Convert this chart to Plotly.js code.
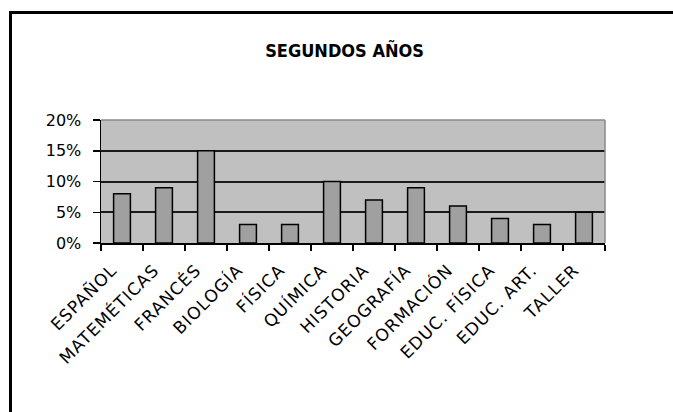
<!DOCTYPE html>
<html>
<head>
<meta charset="utf-8">
<script src="https://cdn.plot.ly/plotly-3.0.1.min.js"></script>
<style>
html,body{margin:0;padding:0;background:#fff;}
#chart{width:673px;height:412px;position:relative;}
#frame{position:absolute;left:9px;top:11px;width:700px;height:450px;border:3px solid #000;box-sizing:border-box;pointer-events:none;}
#wrap{position:relative;width:673px;height:412px;overflow:hidden;}
.xtick text{letter-spacing:1px;}
</style>
</head>
<body>
<div id="wrap">
<div id="chart"></div>
<div id="frame"></div>
</div>
<script>
const chartTitle = 'SEGUNDOS AÑOS';
const categories = ['ESPAÑOL','MATEMÉTICAS','FRANCÉS','BIOLOGÍA','FÍSICA','QUÍMICA','HISTORIA','GEOGRAFÍA','FORMACIÓN','EDUC. FÍSICA','EDUC. ART.','TALLER'];
const values = [8, 9, 15, 3, 3, 10, 7, 9, 6, 4, 3, 5];
const yTickValues = [0, 5, 10, 15, 20];
const yTickLabels = ['0%', '5%', '10%', '15%', '20%'];

const trace = {
  type: 'bar',
  x: categories,
  y: values,
  marker: {color: '#a0a0a0', line: {color: '#000', width: 1.5}},
  width: 0.4,
  hoverinfo: 'x+y'
};

const layout = {
  width: 673, height: 412,
  margin: {l: 101, r: 68, t: 120, b: 169},
  paper_bgcolor: 'rgba(0,0,0,0)',
  plot_bgcolor: '#c0c0c0',
  showlegend: false,
  title: {
    text: chartTitle,
    font: {family: '"DejaVu Sans Condensed", "DejaVu Sans", sans-serif', size: 18, color: '#000', weight: 'bold', stretch: 'condensed'},
    xref: 'container', yref: 'container',
    x: 0.512, y: 1 - 50.5/412, xanchor: 'center', yanchor: 'middle'
  },
  font: {family: '"DejaVu Sans", sans-serif', color: '#000'},
  xaxis: {
    type: 'category',
    tickangle: -45,
    tickson: 'boundaries',
    ticks: 'outside', ticklen: 6, tickcolor: '#000', tickwidth: 1.5,
    showline: true, linecolor: '#000', linewidth: 1.5,
    showgrid: false,
    tickfont: {size: 17, family: '"DejaVu Sans", sans-serif', color: '#000'},
    ticklabelshift: -10,
    ticklabelstandoff: 9,
    fixedrange: true
  },
  yaxis: {
    range: [0, 20],
    tickvals: yTickValues,
    ticktext: yTickLabels,
    ticks: 'outside', ticklen: 7, tickcolor: '#000', tickwidth: 1.5,
    showline: true, linecolor: '#000', linewidth: 1.5,
    showgrid: true, gridcolor: '#1a1a1a', gridwidth: 2,
    zeroline: false,
    tickfont: {size: 16, family: '"DejaVu Sans", sans-serif', color: '#000'},
    ticklabelstandoff: 8,
    fixedrange: true
  },
  shapes: [
    {type: 'line', xref: 'paper', yref: 'paper', x0: 0, x1: 1, y0: 1, y1: 1, line: {color: '#8a8a8a', width: 1.5}},
    {type: 'line', xref: 'paper', yref: 'paper', x0: 1, x1: 1, y0: 0, y1: 1, line: {color: '#8a8a8a', width: 1.5}}
  ]
};

Plotly.newPlot('chart', [trace], layout, {displayModeBar: false, staticPlot: true});
</script>
</body>
</html>
